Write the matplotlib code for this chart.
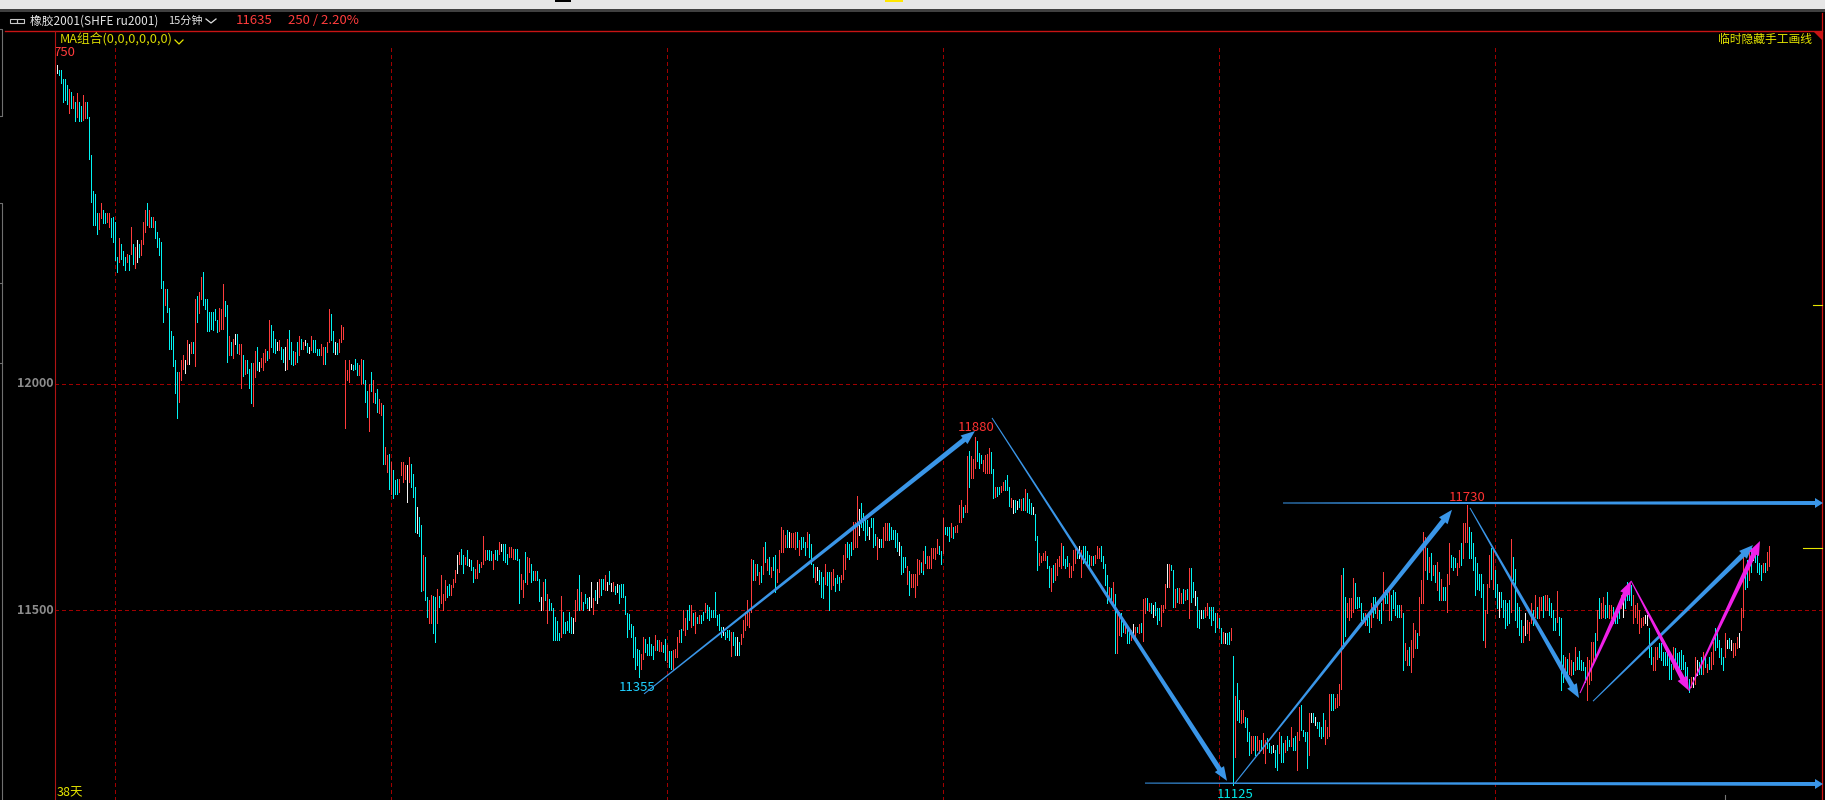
import matplotlib
matplotlib.use('Agg')
import matplotlib.pyplot as plt
from matplotlib.patches import Polygon, Rectangle
from matplotlib.transforms import IdentityTransform
import numpy as np

plt.rcParams['font.family'] = ['Noto Sans CJK SC', 'DejaVu Sans']

# --- bars: high, low, kind (R up, C down, W flat) ---
start_a = 0
high_a = [12705,12695,12695,12673,12673,12660,12653,12646,12636,12624,
          12644,12624,12614,12638,12624,12624,12591,12506,12427,12421,
          12379,12379,12401,12384,12377,12377,12379,12366,12369,12358,
          12281,12322,12309,12294,12281,12288,12285,12347,12309,12303,
          12318,12310,12318,12358,12384,12401,12384,12369,12369,12361,
          12336,12322,12313,12227,12211,12211,12167,12117,12106,12053,
          12027,12027,12053,12064,12053,12097,12088,12092,12092,12187,
          12194,12204,12237,12248,12187,12187,12159,12159,12159,12165,
          12141,12167,12165,12222,12184,12174,12106,12093,12100,12111,
          12111,12088,12088,12064,12053,12053,12034,12047,12047,12072,
          12082,12049,12058,12069,12078,12073,12141,12130,12117,12100,
          12093,12097,12082,12078,12082,12100,12120,12093,12073,12071,
          12093,12106,12100,12093,12097,12091,12081,12106,12097,12097,
          12078,12078,12089,12082,12082,12093,12165,12154,12117,12093,
          12091,12100,12130,12126,12053,12032,12053,12045,12042,12056,
          12047,12042,12056,12053,12008,11985,12001,12027,12008,11980,
          11990,11966,11958]
low_a = [12688,12683,12666,12624,12627,12619,12600,12611,12611,12582,
         12591,12582,12582,12583,12587,12587,12498,12403,12351,12351,
         12331,12342,12366,12355,12355,12358,12347,12325,12314,12274,
         12248,12270,12277,12263,12251,12270,12251,12288,12266,12257,
         12270,12281,12285,12310,12336,12351,12347,12347,12347,12322,
         12303,12285,12213,12137,12174,12159,12078,12078,12040,11980,
         11924,11960,12008,12034,12025,12044,12044,12069,12069,12040,
         12137,12156,12187,12174,12165,12117,12117,12122,12120,12141,
         12115,12117,12122,12122,12150,12049,12064,12064,12058,12089,
         12069,12067,11991,12017,12023,12025,11992,11957,11952,12016,
         12032,12029,12038,12032,12049,12053,12058,12082,12071,12069,
         12075,12076,12056,12049,12030,12034,12056,12045,12042,12044,
         12049,12064,12078,12078,12086,12071,12069,12075,12071,12071,
         12064,12064,12064,12045,12045,12071,12093,12097,12071,12066,
         12067,12071,12093,12100,11903,12008,12005,12034,12032,12034,
         12019,12019,12001,12002,11960,11927,11896,11985,11960,11957,
         11938,11935,11931]
kind_a = ("WCCCCCRCRC" "RCCRRCCCCC" "CRRCCRRCCC" "CRCCCRCRCR" "WCRRRCRCRC"
          "CCCCRCCCCC" "CRRRWRWRCR" "CRRCCCCCCC" "CRRRCCRCRW" "CRRCRCCCRR"
          "CWRRRCRCCC" "WRCCWRCCCR" "CRCRWCWRCC" "CCRRCRRCCW" "CRRRRRRWCC"
          "CRRCCCRCRC" "CRR")

start_b = 163
high_b = [11953,11861,11843,11846,11828,11811,11787,11791,11791,11827,
          11827,11821,11821,11838,11823,11802,11773,11728,11706,11688,
          11622,11617,11530,11522,11533,11531,11530,11548,11531,11577,
          11537,11566,11553,11559,11555,11570,11588,11622,11629,11636,
          11622,11618,11633,11614,11612,11596,11592,11611,11602,11607,
          11664,11633,11633,11633,11631,11625,11633,11633,11651,11647,
          11647,11647,11625,11639,11639,11636,11636,11636,11614,11581,
          11566,11629,11618,11616,11603,11587,11587,11587,11570,11530,
          11563,11570,11535,11524,11515,11506,11485,11476,11450,11531,
          11496,11474,11476,11496,11485,11482,11522,11548,11577,11541,
          11518,11537,11526,11530,11563,11526,11544,11563,11570,11570,
          11570,11577,11563,11586,11560,11563,11553,11557,11555,11557,
          11557,11531,11493,11491,11469,11465,11441,11415,11413,11404,
          11441,11437,11426,11441,11426,11420,11445,11434,11434,11430,
          11423,11437,11423,11410,11410,11412,11415,11441,11456,11459,
          11500,11482,11500,11511,11511,11493,11496,11485,11489,11489,
          11496,11515,11511,11507,11500,11500,11541,11489,11491,11463,
          11463,11452,11457,11456,11452,11452,11441,11441,11430,11448,
          11478,11496,11522,11496,11614,11612,11603,11603,11585,11597,
          11640,11651,11614,11618,11596,11618,11622,11592,11633,11684,
          11677,11666,11677,11673,11670,11671,11673,11673,11655,11662,
          11662,11651,11673,11668,11647,11602,11596,11596,11588,11585,
          11574,11602,11585,11585,11585,11592,11572,11577,11574,11577,
          11622,11647,11651,11647,11651,11695,11695,11752,11723,11737,
          11715,11706,11699,11684,11703,11703,11668,11662,11658,11658,
          11684,11692,11692,11693,11684,11677,11677,11670,11651,11642,
          11618,11618,11597,11587,11581,11581,11581,11614,11611,11607,
          11611]
low_b = [11823,11823,11806,11768,11758,11749,11758,11757,11762,11799,
         11784,11791,11740,11784,11773,11751,11673,11671,11664,11543,
         11544,11522,11485,11471,11471,11450,11430,11471,11507,11516,
         11500,11522,11530,11533,11533,11552,11563,11583,11603,11603,
         11583,11602,11600,11597,11588,11563,11572,11572,11585,11596,
         11603,11611,11614,11611,11611,11592,11614,11612,11625,11631,
         11611,11607,11603,11618,11618,11614,11614,11611,11515,11548,
         11530,11563,11559,11585,11563,11566,11566,11566,11521,11500,
         11500,11522,11471,11500,11500,11435,11435,11435,11435,11440,
         11450,11450,11457,11452,11450,11450,11476,11500,11500,11502,
         11500,11515,11504,11500,11507,11491,11522,11516,11530,11533,
         11548,11544,11544,11559,11543,11543,11537,11541,11516,11530,
         11530,11491,11441,11459,11441,11397,11371,11378,11353,11371,
         11393,11408,11401,11401,11401,11393,11412,11412,11410,11410,
         11408,11390,11386,11375,11371,11371,11397,11397,11430,11430,
         11456,11445,11459,11478,11463,11467,11450,11471,11471,11471,
         11478,11496,11482,11478,11485,11484,11485,11467,11456,11441,
         11445,11437,11441,11434,11398,11423,11401,11401,11401,11426,
         11441,11456,11467,11463,11496,11566,11566,11577,11559,11563,
         11581,11607,11588,11581,11574,11588,11541,11563,11585,11629,
         11629,11640,11640,11640,11640,11640,11636,11640,11622,11636,
         11640,11622,11640,11618,11603,11574,11563,11566,11559,11530,
         11528,11559,11555,11500,11548,11555,11543,11560,11544,11563,
         11570,11592,11618,11614,11622,11636,11640,11640,11666,11684,
         11677,11655,11666,11658,11684,11640,11644,11614,11640,11640,
         11639,11655,11655,11655,11658,11658,11640,11631,11622,11581,
         11585,11596,11559,11533,11552,11552,11530,11555,11581,11588,
         11581]
kind_b = ("CRRCRCCCRR" "RRWRCCCWCC" "RCCRRCCRCR" "RRCCRRRWRC" "CRCWCCRRCR"
          "RRCCCRCCRW" "CCCRRRCCCR" "RCRRCCRCCW" "RCRCCCCCCR" "CCCCCWRRCR"
          "CCCWWRCWRC" "CRWCWRCWCC" "CCCCCCCCCR" "RCCCCCRCRR" "CCRCCRRRRC"
          "RRCCRCRCRC" "CRCCCCCCCC" "WCCCRCCWCR" "RRRRRCRCRC" "RCRCRCCRRR"
          "RRCWRRRCRC" "CCRCCCRWCC" "CRCCRRCCCR" "RRCCCRRRWC" "CCCWCCCRWC"
          "RRRCCCCCWC" "CCRCRRRRRR" "C")

start_c = 432
high_c = [11604,11630,11642,11619,11619,11637,11637,11637,11657,11642,
          11630,11703,11683,11685,11683,11692,11685,11686,11689,11733,
          11744,11729,11733,11840,11851,11840,11834,11882,11873,11847,
          11843,11832,11843,11846,11858,11849,11812,11772,11772,11772,
          11775,11784,11788,11799,11772,11748,11744,11744,11742,11745,
          11745,11748,11767,11759,11745,11737,11729,11713,11664,11626,
          11620,11627,11630,11619,11597,11593,11600,11604,11613,11619,
          11648,11642,11613,11620,11604,11597,11633,11635,11637,11641,
          11633,11641,11641,11632,11622,11619,11619,11622,11642,11637,
          11641,11619,11602,11578,11552,11549,11563,11536,11501,11497,
          11493,11479,11468,11464,11449,11456,11470,11464,11464,11470,
          11471,11524,11526,11526,11515,11515,11512,11519,11504,11504,
          11512,11512,11558,11602,11602,11600,11588,11546,11549,11549,
          11539,11546,11545,11546,11593,11593,11563,11543,11530,11501,
          11501,11501,11507,11515,11508,11508,11508,11493,11493,11482,
          11460,11453,11449,11449,11453,11460,11399,11311,11340,11302,
          11280,11280,11263,11261,11232,11221,11221,11221,11221,11213,
          11213,11228,11213,11217,11206,11199,11202,11191,11202,11232,
          11221,11206,11213,11221,11213,11243,11217,11221,11232,11287,
          11291,11235,11232,11232,11274,11274,11272,11265,11254,11254,
          11243,11272,11257,11243,11316,11316,11316,11305,11316,11337,
          11578,11593,11530,11515,11526,11526,11571,11561,11530,11530,
          11515,11493,11493,11486,11493,11515,11530,11530,11515,11501,
          11515,11585,11545,11538,11545,11534,11545,11541,11512,11512]
low_c = [11585,11589,11604,11593,11593,11593,11615,11613,11627,11625,
         11602,11626,11669,11667,11654,11661,11659,11672,11674,11694,
         11696,11707,11718,11718,11772,11792,11792,11814,11829,11814,
         11825,11807,11804,11804,11803,11804,11748,11750,11753,11757,
         11762,11765,11765,11765,11731,11729,11714,11718,11723,11728,
         11722,11722,11722,11718,11714,11713,11713,11655,11588,11600,
         11607,11610,11611,11593,11552,11543,11563,11567,11578,11597,
         11593,11600,11593,11598,11574,11573,11589,11604,11615,11615,
         11573,11604,11613,11604,11593,11600,11600,11604,11615,11615,
         11608,11593,11556,11515,11523,11524,11515,11405,11405,11445,
         11442,11453,11449,11427,11427,11434,11443,11443,11451,11449,
         11453,11431,11493,11501,11499,11493,11484,11490,11470,11479,
         11465,11497,11504,11552,11552,11589,11508,11508,11519,11515,
         11515,11515,11523,11524,11482,11519,11530,11512,11464,11460,
         11482,11482,11486,11490,11482,11467,11479,11453,11464,11460,
         11428,11427,11427,11426,11426,11434,11114,11176,11257,11254,
         11250,11254,11243,11210,11180,11184,11191,11180,11191,11184,
         11191,11184,11162,11195,11187,11184,11187,11154,11147,11184,
         11165,11165,11187,11191,11199,11199,11191,11191,11147,11213,
         11235,11221,11210,11151,11180,11254,11254,11246,11239,11221,
         11217,11221,11204,11217,11221,11280,11280,11283,11287,11291,
         11327,11416,11442,11486,11479,11486,11497,11504,11504,11508,
         11479,11471,11468,11468,11453,11464,11486,11493,11482,11479,
         11471,11501,11515,11515,11479,11479,11504,11490,11486,11486]
kind_c = ("CRCRRRRRRC" "CRCCCRCRRR" "RCRRCRRRCC" "CRRRRCCRCC" "RRCCCRWCWC"
          "RCRCCCWCCR" "RRRCCRCRRR" "RCCCRRRRCW" "RCCCCRCRRR" "CCCCRCRCRR"
          "CCRCCRWRCR" "CRRCRCWCCC" "RRRWRCCRCR" "RCRCRCCWCC" "WCRRCCCCRC"
          "CRWCCRCRCC" "RRCCCRRCRR" "CRRCCCWCCR" "CCRCCRCCRR" "CCCCRWCWCC"
          "CCRRRCCRRR" "RCCRRRRCCC" "CCRCCRCCRC" "CRCCRCCCCC")

start_d = 672
high_d = [11511,11494,11427,11412,11419,11434,11471,11456,11449,11530,
          11567,11674,11662,11637,11618,11626,11600,11600,11607,11585,
          11570,11552,11552,11581,11648,11622,11618,11615,11604,11633,
          11648,11692,11692,11733,11685,11674,11648,11618,11604,11581,
          11581,11559,11500,11559,11622,11637,11633,11589,11559,11541,
          11541,11522,11522,11515,11522,11657,11618,11592,11515,11508,
          11478,11465,11493,11478,11475,11515,11500,11533,11508,11530,
          11530,11531,11533,11533,11526,11515,11500,11482,11543,11486,
          11482,11401,11397,11393,11405,11390,11386,11419,11397,11410,
          11390,11386,11375,11397,11390,11430,11430,11449,11500,11526,
          11515,11530,11511,11541,11511,11511,11508,11493,11508,11515,
          11533,11522,11541,11563,11559,11556,11533,11511,11515,11500,
          11482,11486,11489,11489,11460,11419,11397,11419,11419,11427,
          11427,11408,11408,11405,11397,11382,11419,11416,11405,11408,
          11412,11401,11386,11375,11349,11353,11353,11397,11390,11386,
          11397,11408,11401,11382,11397,11408,11430,11460,11449,11434,
          11416,11397,11449,11434,11438,11434,11427,11427,11441,11449,
          11504,11618,11589,11611,11633,11637,11637,11637,11622,11604,
          11600,11604,11604,11629,11642]
low_d = [11486,11368,11390,11379,11379,11364,11397,11416,11416,11445,
         11515,11515,11589,11570,11585,11567,11578,11563,11545,11522,
         11522,11522,11522,11497,11559,11596,11589,11596,11578,11596,
         11600,11615,11651,11651,11615,11615,11589,11533,11548,11545,
         11530,11434,11419,11493,11552,11570,11548,11530,11504,11486,
         11508,11486,11460,11467,11471,11497,11567,11478,11463,11445,
         11430,11430,11445,11449,11434,11471,11467,11486,11482,11482,
         11500,11486,11500,11500,11489,11486,11456,11456,11475,11445,
         11323,11342,11357,11360,11360,11357,11360,11368,11371,11371,
         11368,11368,11342,11301,11338,11345,11382,11390,11434,11482,
         11482,11486,11482,11486,11482,11482,11471,11471,11471,11482,
         11504,11486,11504,11522,11522,11511,11471,11486,11471,11449,
         11463,11467,11471,11467,11397,11382,11368,11368,11393,11397,
         11390,11379,11379,11379,11349,11349,11371,11375,11382,11368,
         11371,11371,11353,11345,11320,11331,11331,11338,11357,11360,
         11360,11360,11375,11364,11371,11371,11382,11412,11419,11397,
         11382,11368,11397,11416,11416,11412,11397,11401,11416,11419,
         11456,11486,11548,11552,11567,11585,11611,11607,11585,11581,
         11567,11585,11585,11589,11598]
kind_d = ("RCRRCRRRCR" "RRRCRCRCRC" "RCCRRCCCRR" "CRRRCCCCCC" "CCRRRCRCCW"
          "CCCCCRCCCC" "CRWRRRCRCR" "RCRRCCCCRC" "CCRCRRCRCC" "CCCRRRRCRC"
          "RRCCRRCCCC" "RWCCCCRRRR" "RRWWCCRRRC" "CCCCCCRCCC" "CCCCCRWRWC"
          "CRCRCRRCCC" "CCRWCWRRRW" "RRCCRCWCCC" "CRCRR")

# --- price and time grid ---
price_levels = [12000, 11500]
price_labels = ['12000', '11500']
time_grid = [29, 167, 305, 443, 581, 719]

# --- drawn trend arrows: (bar, price) -> (bar, price) ---
blue_arrows = [(293.5, 11315, 459, 11896), (467.5, 11925, 585, 11123),
               (589, 11118, 697.5, 11722), (706.5, 11726, 761, 11306),
               (768, 11299, 848, 11644)]
pink_arrows = [(761.5, 11317, 787, 11565), (787, 11565, 816, 11322),
               (816, 11322, 851.5, 11653)]
level_arrows = [(613, 11737, 883, 11737), (544, 11118, 883, 11116)]

# --- extreme labels: bar, price, text, colour ---
marks = [(290, 11330, '11355', '#1fd0ff'), (459.5, 11903, '11880', '#ff3232'),
         (705, 11750, '11730', '#ff3232'), (589, 11092, '11125', '#00e6e6')]

RED = '#ff3c3c'
CYAN = '#00f4f4'
WHITE = '#f4f4f4'
BLUE = '#3a96e8'
PINK = '#f020e8'
GRID = '#a00000'
colors = {'R': RED, 'C': CYAN, 'W': WHITE}

fig = plt.figure(figsize=(18.25, 8), dpi=100, facecolor='black')

# pixel overlay for the window chrome
chrome = fig.add_axes([0, 0, 1, 1], zorder=3)
chrome.set_xlim(0, 1825)
chrome.set_ylim(800, 0)
chrome.axis('off')
chrome.patch.set_alpha(0)

ax = fig.add_axes([55 / 1825, 0, (1822 - 55) / 1825, 769 / 800], zorder=1)
ax.set_facecolor('black')
ax.set_xlim(-1, 882.5)
ax.set_ylim(12000 + (384 - 800) * 2.21, 12000 + (384 - 31) * 2.21)
ax.axis('off')

# --- grid ---
ax.hlines(price_levels, -1, 882.5, colors=GRID, linewidth=0.72,
          linestyles=(0, (3, 3)), antialiased=False, zorder=1)
ax.vlines(time_grid, ax.get_ylim()[0], 12742, colors=GRID, linewidth=0.72,
          linestyles=(0, (3, 3)), antialiased=False, zorder=1)

# --- bars ---
for start, highs, lows, kinds in [(start_a, high_a, low_a, kind_a),
                                  (start_b, high_b, low_b, kind_b),
                                  (start_c, high_c, low_c, kind_c),
                                  (start_d, high_d, low_d, kind_d)]:
    if len(highs) != len(lows) or len(kinds) != len(highs):
        print('length check', start, len(highs), len(lows), len(kinds))
    idx = start + np.arange(len(highs))
    bar_colors = [colors[k] for k in kinds]
    ax.vlines(idx, lows, highs, colors=bar_colors, linewidth=0.72,
              antialiased=False, zorder=2)


# --- tapered arrows, built in display space ---
def draw_arrow(seg, color, tail_w=1.0, shaft_w=5.0, head_w=11.0, head_l=14.0):
    p0 = ax.transData.transform((seg[0], seg[1]))
    p1 = ax.transData.transform((seg[2], seg[3]))
    d = (p1 - p0) / np.linalg.norm(p1 - p0)
    n = np.array([-d[1], d[0]])
    neck = p1 - d * head_l
    pts = [p0 + n * tail_w / 2, neck + n * shaft_w / 2, neck + n * head_w / 2, p1,
           neck - n * head_w / 2, neck - n * shaft_w / 2, p0 - n * tail_w / 2]
    fig.add_artist(Polygon(pts, closed=True, facecolor=color, edgecolor='none',
                           transform=IdentityTransform(), zorder=5))


for seg in blue_arrows:
    draw_arrow(seg, BLUE)
for seg in pink_arrows:
    draw_arrow(seg, PINK)
for seg in level_arrows:
    draw_arrow(seg, BLUE, shaft_w=4.0, head_w=10.0, head_l=8.0)

for bar, price, label, color in marks:
    ax.text(bar, price, label, color=color, fontsize=9.5, ha='center', va='center', zorder=6)

for price, label in zip(price_levels, price_labels):
    ax.text(-1.5, price, label, color='#8c8c8c', fontsize=9, fontweight='bold',
            ha='right', va='center', clip_on=False, zorder=6)

# --- window chrome ---
chrome.add_patch(Rectangle((0, 0), 1825, 9, color='#e6e6e6', lw=0))
chrome.add_patch(Rectangle((0, 9), 1825, 2.5, color='#404040', lw=0))
chrome.add_patch(Rectangle((555, 0), 16, 1.5, color='black', lw=0))
chrome.add_patch(Rectangle((885, 0), 18, 1.5, color='#ffe600', lw=0))
chrome.plot([5, 1822], [30.5, 30.5], color='#c81414', lw=1.0)
chrome.plot([1822.5, 1822.5], [13, 800], color='#d01414', lw=0.9)
chrome.add_patch(Polygon([(1813, 31), (1822, 31), (1822, 40)], color='#c81414', lw=0))
chrome.plot([1813, 1822], [305, 305], color='#e6e600', lw=0.8)
chrome.plot([1803, 1822], [548, 548], color='#e6e600', lw=0.8)
chrome.plot([1725.5, 1725.5], [795, 800], color='#777777', lw=0.8)
chrome.plot([0, 2.5, 2.5, 0], [29, 29, 116, 116], color='#707070', lw=0.8)
chrome.plot([0, 2.5, 2.5], [203, 203, 800], color='#707070', lw=0.8)
for tick_y in [283, 363]:
    chrome.plot([0, 2.5], [tick_y, tick_y], color='#707070', lw=0.8)

# link icon and chevrons
chrome.add_patch(Rectangle((10, 18.5), 7, 4, fill=False, ec='#c8c8c8', lw=0.8))
chrome.add_patch(Rectangle((17, 18.5), 7, 4, fill=False, ec='#c8c8c8', lw=0.8))
chrome.plot([206, 211, 216], [19, 23, 19], color='#e0e0e0', lw=0.9)
chrome.plot([175, 179, 183], [40, 44, 40], color='#e6e600', lw=0.9)

chrome.text(30, 21, '橡胶2001(SHFE ru2001)', color='#e6e6e6', fontsize=8.5, va='center')
chrome.text(168, 21, '15分钟', color='#e6e6e6', fontsize=8, va='center')
chrome.text(236, 21, '11635', color=RED, fontsize=9.5, va='center')
chrome.text(288, 21, '250 / 2.20%', color=RED, fontsize=9.5, va='center')
chrome.text(60, 39, 'MA组合(0,0,0,0,0,0)', color='#d8d800', fontsize=9.2, va='center')
chrome.text(1812, 39, '临时隐藏手工画线', color='#e6e600', fontsize=8.5, va='center', ha='right')
chrome.text(53, 53, '750', color=RED, fontsize=9.5, va='center')
chrome.add_patch(Rectangle((45, 45), 10, 16, color='black', lw=0, zorder=4))
chrome.plot([55.5, 55.5], [31, 800], color='#b01414', lw=0.8, zorder=5)
chrome.text(57, 793, '38天', color='#e6e600', fontsize=9, va='center')

fig.savefig('out.png', dpi=100, facecolor='black')
